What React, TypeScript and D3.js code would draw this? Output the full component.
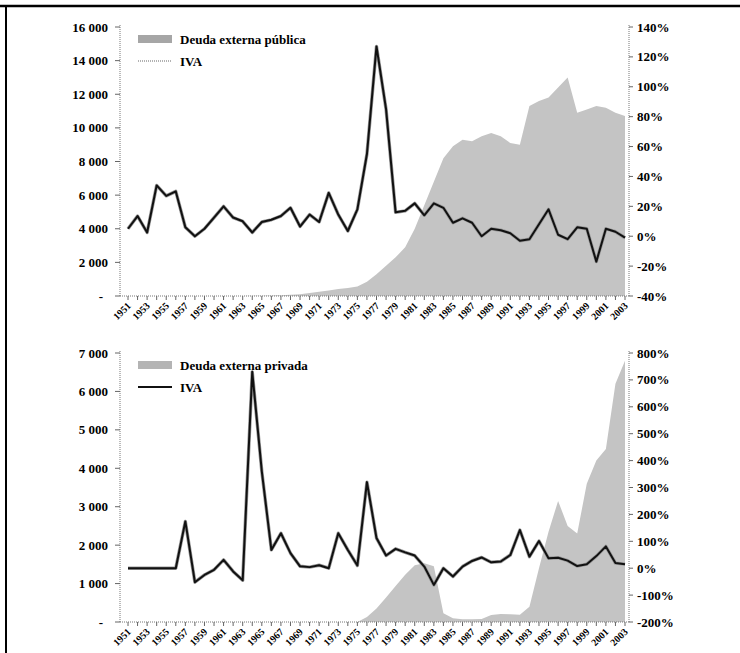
import React from 'react';
import * as d3 from 'd3';

const years = ['1951','1952','1953','1954','1955','1956','1957','1958','1959','1960','1961','1962','1963','1964','1965','1966','1967','1968','1969','1970','1971','1972','1973','1974','1975','1976','1977','1978','1979','1980','1981','1982','1983','1984','1985','1986','1987','1988','1989','1990','1991','1992','1993','1994','1995','1996','1997','1998','1999','2000','2001','2002','2003'];

const deudaPublica = [0,0,0,0,0,0,0,0,0,0,0,0,5,10,15,25,45,70,110,180,250,330,420,480,570,850,1300,1800,2300,2900,4000,5400,6800,8200,8900,9300,9200,9500,9700,9500,9100,9000,11300,11600,11800,12400,13000,10900,11100,11300,11200,10900,10700];
const ivaPublica = [5,13.5,2.5,34,27,30,6,0,5,12.5,20,12.5,10,2.5,9.5,11,13.5,19,6.5,14.5,9.5,29,14.5,3.5,18,55,127,85,16,17,22,14,22,19,9,12,9,0,5,4,2,-3,-2,8,18,1,-2,6,5,-17,5,3,-1];

const deudaPrivada = [0,0,0,0,0,0,0,0,0,0,0,0,0,0,0,0,0,0,0,0,0,0,0,0,0,130,350,640,940,1230,1480,1530,1450,230,100,70,70,80,180,210,200,190,400,1400,2350,3150,2500,2300,3600,4200,4500,6200,6800];
const ivaPrivada = [0,0,0,0,0,0,174,-52,-25,-6,31,-12,-45,730,360,68,130,56,7,4,11,0,130,68,10,320,112,47,72,59,47,6,-62,0,-31,6,27,40,22,25,49,142,43,101,37,39,28,8,15,45,81,19,15];

const leftTicksTop = [0,2000,4000,6000,8000,10000,12000,14000,16000];
const rightTicksTop = [-40,-20,0,20,40,60,80,100,120,140];
const leftTicksBottom = [0,1000,2000,3000,4000,5000,6000,7000];
const rightTicksBottom = [-200,-100,0,100,200,300,400,500,600,700,800];

const FONT = '"Liberation Serif", "Times New Roman", serif';
const fmtThousands = (v: number) => (v === 0 ? '-' : d3.format(',')(v).replace(/,/g, ' '));
const fmtPct = (v: number) => `${v}%`;

type PanelProps = {
  y0: number; y1: number;
  debt: number[]; iva: number[];
  leftTicks: number[]; rightTicks: number[];
  debtLabel: string; legendLineGray: boolean;
};

const AXL = 120, AXR = 629;
const FS = 13;

function Panel({ y0, y1, debt, iva, leftTicks, rightTicks, debtLabel, legendLineGray }: PanelProps) {
  const x = d3.scaleLinear().domain([0, years.length - 1]).range([128, 625]);
  const yl = d3.scaleLinear().domain([leftTicks[0], leftTicks[leftTicks.length - 1]]).range([y1, y0]);
  const yr = d3.scaleLinear().domain([rightTicks[0], rightTicks[rightTicks.length - 1]]).range([y1, y0]);
  const area = d3.area<number>().x((_, i) => x(i)).y0(yl(0)).y1(d => yl(d));
  const line = d3.line<number>().x((_, i) => x(i)).y(d => yr(d));
  const lx = 138;
  return (
    <g fontFamily={FONT}>
      <path d={area(debt) || ''} fill="#c4c4c4" />
      {/* left axis */}
      <line x1={AXL} x2={AXL} y1={y0 - 2} y2={y1} stroke="#777" strokeDasharray="1 1" />
      {leftTicks.map(t => (
        <g key={'l' + t}>
          <line x1={AXL - 5} x2={AXL} y1={yl(t)} y2={yl(t)} stroke="#666" />
          <text x={t === 0 ? 103 : 108} y={yl(t)} dy="0.35em" textAnchor="end" fontSize={FS} fontWeight="bold" style={{ whiteSpace: 'pre' }}>{fmtThousands(t)}</text>
        </g>
      ))}
      {/* right axis */}
      <line x1={AXR} x2={AXR} y1={y0 - 2} y2={y1} stroke="#777" strokeDasharray="1 1" />
      {rightTicks.map(t => (
        <g key={'r' + t}>
          <line x1={AXR} x2={AXR + 4} y1={yr(t)} y2={yr(t)} stroke="#666" />
          <text x={637} y={yr(t)} dy="0.35em" textAnchor="start" fontSize={FS} fontWeight="bold">{fmtPct(t)}</text>
        </g>
      ))}
      {/* x axis */}
      <line x1={AXL} x2={AXR} y1={y1} y2={y1} stroke="#777" strokeDasharray="1 1" />
      {years.map((yr_, i) => (
        <line key={'xt' + i} x1={x(i)} x2={x(i)} y1={y1} y2={y1 + 4} stroke="#666" />
      ))}
      {years.map((yr_, i) => i % 2 === 0 ? (
        <text key={'xl' + i} transform={`translate(${x(i) + 1},${y1 + 8}) rotate(-45)`} textAnchor="end" dy="0.35em" fontSize={10} fontWeight="bold">{yr_}</text>
      ) : null)}
      {/* IVA line */}
      <path d={line(iva) || ''} fill="none" stroke="#999" strokeWidth={3.4} strokeLinejoin="round" />
      <path d={line(iva) || ''} fill="none" stroke="#111" strokeWidth={2} strokeLinejoin="round" />
      {/* legend */}
      <rect x={lx} y={y0 + 8} width={34} height={8} fill={legendLineGray ? '#a6a6a6' : '#b4b4b4'} />
      <text x={180} y={y0 + 12} dy="0.35em" fontSize={FS} fontWeight="bold">{debtLabel}</text>
      <line x1={lx} x2={lx + 34} y1={y0 + 34} y2={y0 + 34} stroke={legendLineGray ? '#999' : '#111'} strokeWidth={legendLineGray ? 1.5 : 2} strokeDasharray={legendLineGray ? '1 1' : undefined} />
      <text x={180} y={y0 + 34} dy="0.35em" fontSize={FS} fontWeight="bold">IVA</text>
    </g>
  );
}

export default function App() {
  return (
    <svg width={740} height={653} style={{ position: 'absolute', left: 0, top: 0, background: '#fff' }}>
      <rect width={740} height={653} fill="#fff" />
      <line x1={0} x2={740} y1={6} y2={6} stroke="#000" strokeWidth={2.5} />
      <line x1={6} x2={6} y1={6} y2={653} stroke="#000" strokeWidth={2} />
      <Panel y0={27} y1={296} debt={deudaPublica} iva={ivaPublica} leftTicks={leftTicksTop} rightTicks={rightTicksTop} debtLabel="Deuda externa pública" legendLineGray={true} />
      <Panel y0={353} y1={622} debt={deudaPrivada} iva={ivaPrivada} leftTicks={leftTicksBottom} rightTicks={rightTicksBottom} debtLabel="Deuda externa privada" legendLineGray={false} />
    </svg>
  );
}
